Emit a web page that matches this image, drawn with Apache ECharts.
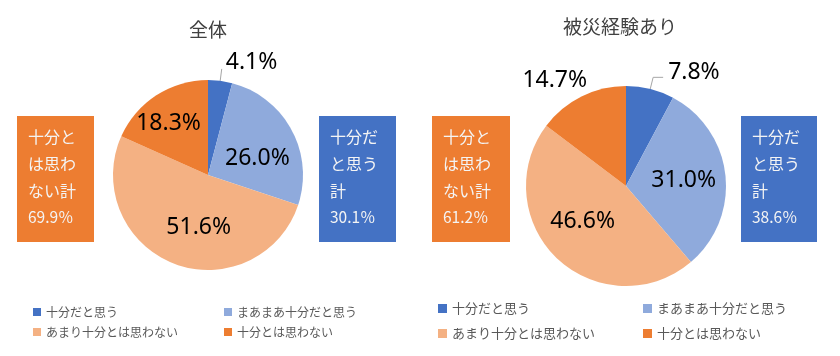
<!DOCTYPE html>
<html><head><meta charset="utf-8">
<script src="https://cdn.jsdelivr.net/npm/echarts@6/dist/echarts.min.js"></script>
<style>html,body{margin:0;padding:0;background:#fff}#c{width:840px;height:356px}</style>
</head><body><div id="c"></div>
<script>
// ---- data ----
const categories = ['十分だと思う', 'まあまあ十分だと思う', 'あまり十分とは思わない', '十分とは思わない'];
const chartTitles = ['全体', '被災経験あり'];
const valuesAll = [4.1, 26.0, 51.6, 18.3];
const valuesDisaster = [7.8, 31.0, 46.6, 14.7];
const negLabelLines = ['十分と', 'は思わ', 'ない計'];
const posLabelLines = ['十分だ', 'と思う', '計'];
const negTotals = [69.9, 61.2];
const posTotals = [30.1, 38.6];

// ---- style ----
const colors = ['#4472C4', '#8FAADC', '#F4B183', '#ED7D31'];
const CJK = '"Noto Sans CJK JP", "Noto Sans", sans-serif';
const NUM = '"Noto Sans", "Noto Sans CJK JP", sans-serif';
const pies = [
  {values: valuesAll, center: [208, 175], radius: 95,
   outside: [true, false, false, false], line: [true, false, false, false],
   len2: [0, 0, 0, 0],
   offs: [[-1,-6],[5,8],[9,5],[-12,-9]],
   titleX: 208, titleTop: 20,
   negBox: [17, 116, 77, 126], posBox: [319, 116, 77, 126],
   legendCols: [33, 224], legendTop: 305, legendIW: 8, legendFS: 12, legendLH: 14, legendGap: 6},
  {values: valuesDisaster, center: [626, 186], radius: 100,
   outside: [true, false, false, true], line: [true, false, false, false],
   len2: [10, 0, 0, 0],
   offs: [[0,-5],[5,0],[-7,-3],[16,-5]],
   titleX: 620, titleTop: 17,
   negBox: [432, 116, 78, 126], posBox: [741, 116, 76, 126],
   legendCols: [438, 643], legendTop: 301, legendIW: 9, legendFS: 13, legendLH: 15, legendGap: 10}
];

const series = pies.map((p, si) => ({
  type: 'pie',
  center: p.center,
  radius: p.radius,
  startAngle: 90,
  clockwise: true,
  avoidLabelOverlap: false,
  itemStyle: {borderWidth: 0},
  emphasis: {disabled: true},
  label: {fontFamily: NUM, fontSize: 23, color: '#000', formatter: d => d.value.toFixed(1) + '%'},
  labelLine: {lineStyle: {color: '#a6a6a6', width: 1}, length: 12, length2: 3, smooth: false},
  labelLayout: function (params) {
    const o = pies[params.seriesIndex].offs[params.dataIndex];
    if (o[0] === 0 && o[1] === 0) return {};
    return {dx: o[0], dy: o[1]};
  },
  data: p.values.map((v, i) => ({
    name: categories[i], value: v,
    itemStyle: {color: colors[i]},
    label: {position: p.outside[i] ? 'outside' : 'inside'},
    labelLine: {show: p.line[i], length: 12, length2: p.len2[i]}
  }))
}));

const titles = pies.map((p, i) => ({
  text: chartTitles[i], left: p.titleX, top: p.titleTop, textAlign: 'center', padding: 0,
  textStyle: {fontFamily: CJK, fontSize: 19, fontWeight: 'normal', color: '#404040'}
}));

const legends = [];
pies.forEach(p => {
  [[0, 2], [1, 3]].forEach((idx, c) => {
    legends.push({
      orient: 'vertical', left: p.legendCols[c], top: p.legendTop, padding: 0,
      itemWidth: p.legendIW, itemHeight: p.legendIW, itemGap: p.legendGap, icon: 'rect',
      selectedMode: false,
      data: idx.map(k => categories[k]),
      textStyle: {fontFamily: CJK, fontSize: p.legendFS, lineHeight: p.legendLH, color: '#595959'}
    });
  });
});

function box(rect, color, lines, total) {
  return {
    type: 'group', children: [
      {type: 'rect', shape: {x: rect[0], y: rect[1], width: rect[2], height: rect[3]}, style: {fill: color}},
      {type: 'text', x: rect[0] + 11, y: rect[1] + 7,
       style: {
         text: lines.map(l => '{a|' + l + '}').join('\n') + '\n{b|' + total.toFixed(1) + '％}',
         fill: '#fff',
         rich: {a: {fontFamily: CJK, fontSize: 16, lineHeight: 27, fill: '#f4f4f4'},
                b: {fontFamily: CJK, fontSize: 15.5, lineHeight: 27, fill: '#f4f4f4'}}
       }}
    ]
  };
}
const graphics = [];
pies.forEach((p, i) => {
  graphics.push(box(p.negBox, '#ED7D31', negLabelLines, negTotals[i]));
  graphics.push(box(p.posBox, '#4472C4', posLabelLines, posTotals[i]));
});

const chart = echarts.init(document.getElementById('c'), null, {renderer: 'canvas'});
chart.setOption({
  animation: false,
  backgroundColor: '#fff',
  title: titles,
  legend: legends,
  series: series,
  graphic: graphics
});
</script></body></html>
